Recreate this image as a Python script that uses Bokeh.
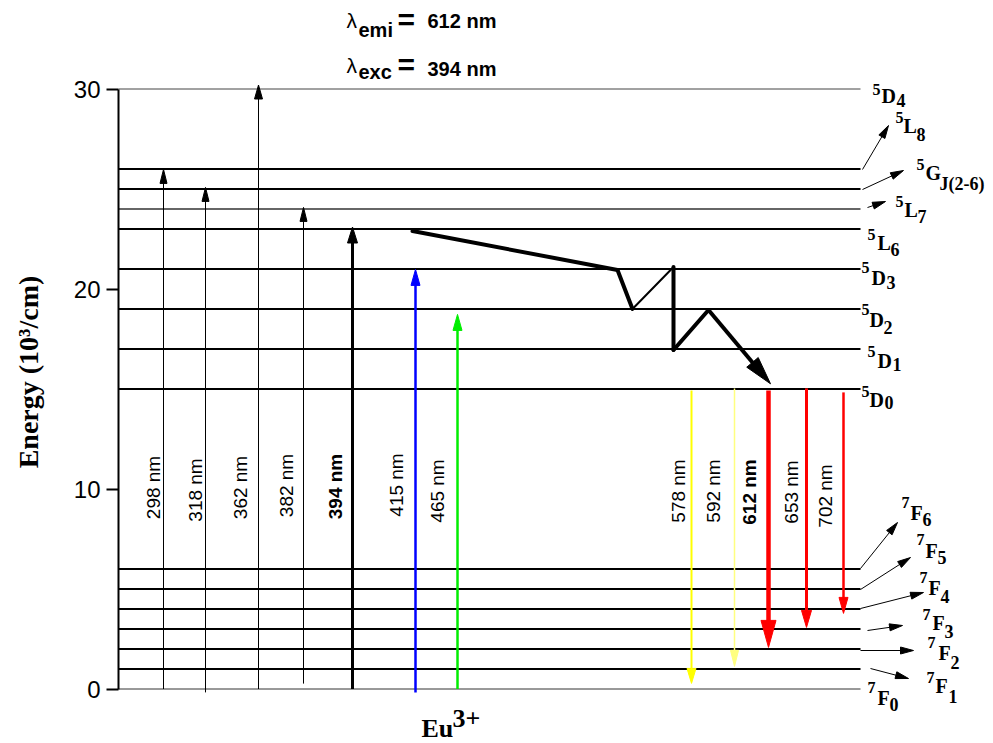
import math
from bokeh.plotting import figure
from bokeh.models import Range1d, FixedTicker
from bokeh.core.properties import value
from bokeh.embed import file_html
from bokeh.resources import INLINE

# ---------------- data ----------------
level_sup = ["5", "5", "5", "5", "5", "5", "5", "5", "5", "7", "7", "7", "7", "7", "7", "7"]
level_main = ["D", "L", "G", "L", "L", "D", "D", "D", "D", "F", "F", "F", "F", "F", "F", "F"]
level_sub = ["4", "8", "J(2-6)", "7", "6", "3", "2", "1", "0", "6", "5", "4", "3", "2", "1", "0"]
level_energy = [30, 26, 25, 24, 23, 21, 19, 17, 15, 6, 5, 4, 3, 2, 1, 0]

exc_labels = ["298 nm", "318 nm", "362 nm", "382 nm", "394 nm", "415 nm", "465 nm"]
exc_start = [0.0, -0.17, 0.0, 0.27, 0.0, -0.17, 0.0]
exc_end = [25.98, 25.08, 30.2, 24.08, 23.1, 20.98, 18.73]

emi_labels = ["578 nm", "592 nm", "612 nm", "653 nm", "702 nm"]
emi_start = [14.93, 15.02, 14.93, 15.03, 14.83]
emi_end = [0.28, 1.13, 2.08, 3.08, 3.78]

relax_energy = [22.9, 20.95, 19.0, 21.1, 16.95, 18.95, 15.26]

y_ticks = [0, 10, 20, 30]

# ---------------- layout ----------------
W, H, LEFT = 993, 743, 118
PX = 20.0          # pixels per energy unit
Y0 = 688.5         # pixel row of energy 0


def Y(py):
    return (Y0 - py) / PX


def YB(py, size):
    """data y of the middle of a text whose alphabetic baseline sits at pixel row py."""
    return Y(py - 0.36 * size)


LEVEL_X0, LEVEL_X1 = 118, 860
level_width = [1, 2, 2, 1.5, 2, 2, 2, 2, 2, 2, 2, 2, 2, 2, 2, 1]
level_color = ["#444444"] + ["black"] * 2 + ["#333333"] + ["black"] * 11 + ["#333333"]

exc_x = [163, 205, 258, 303, 352, 415, 457]
exc_color = ["black"] * 5 + ["#0000ff", "#00ee00"]
exc_lw = [1, 1, 1, 1, 3, 2.5, 2.5]
exc_head = [(14, 7), (14, 7), (14, 8), (14, 7), (16, 10), (16, 9), (16, 9)]
exc_lab_x = [152.5, 194.5, 239.5, 285.5, 334.5, 395.5, 436.5]
exc_lab_y = [487, 489.5, 487, 485, 486, 484.5, 490.5]
exc_bold = [False, False, False, False, True, False, False]

emi_x = [691, 734, 768, 806, 843]
emi_color = ["#ffff00", "#ffff80", "#ff0000", "#ff0000", "#ff0000"]
emi_lw = [2, 1.5, 4.5, 3, 2.5]
emi_head = [(15, 9), (16, 8), (27, 15), (17, 10), (16, 9)]
emi_lab_x = [677.5, 712.5, 748.5, 790.5, 824.5]
emi_lab_y = [490.5, 490.5, 491.5, 491.5, 495.5]
emi_bold = [False, False, True, False, False]

relax_x = [412, 617, 632, 673, 673, 708, 770]
relax_lw = [4, 4, 2, 4, 4, 4]

sup_pos = [(872, 95), (895, 123), (916, 170), (895, 207), (867, 240), (861, 273), (861, 315), (867, 357),
           (861, 397), (901, 508), (916, 545), (919, 583), (922, 620), (927, 648), (926, 683), (867, 693)]
main_pos = [(881, 103), (903, 133), (925, 180), (904, 217), (877, 250), (871, 285), (869, 327), (877, 368),
            (869, 407), (910, 520), (925, 558), (928, 595), (932, 630), (938, 660), (935, 693), (877, 705)]
sub_pos = [(896, 106), (916, 140), (939, 190), (917, 222), (890, 255), (886, 288), (883, 333), (892, 370),
           (884, 408), (922, 525), (937, 563), (940, 602), (944, 637), (950, 668), (948, 702), (889, 710)]

pointers = [((862, 169), (888, 125)), ((862, 189), (903, 170)), ((867, 207), (885, 201)),
            ((860, 568), (897, 522)), ((860, 589), (910, 557)), ((860, 608), (923, 592)),
            ((867, 630), (902, 625)), ((860, 650), (913, 650)), ((870, 668), (908, 678))]

SERIF = "Liberation Serif"
SANS = "Liberation Sans"


def head_tri(xt, yt, xf, yf, L, Wd):
    """Triangle (data coords) for an arrow head of L x Wd pixels at (xt, yt) pointing away from (xf, yf)."""
    ty, fy = yt * PX, yf * PX
    dx, dy = xt - xf, ty - fy
    n = math.hypot(dx, dy)
    ux, uy = dx / n, dy / n
    bx, by = xt - ux * L, ty - uy * L
    nx, ny = -uy, ux
    xs = [xt, bx + nx * Wd / 2, bx - nx * Wd / 2]
    ys = [yt, (by + ny * Wd / 2) / PX, (by - ny * Wd / 2) / PX]
    end = (bx + ux * L * 0.4, (by + uy * L * 0.4) / PX)
    return xs, ys, end


p = figure(width=W, height=H, x_range=Range1d(LEFT, W), y_range=Range1d(Y(H), Y(0)),
           output_backend="svg", toolbar_location=None, x_axis_location=None,
           min_border_left=LEFT, min_border_right=0, min_border_top=0, min_border_bottom=0)
p.grid.visible = False
p.outline_line_color = None
p.background_fill_color = "white"
p.border_fill_color = "white"

ax = p.yaxis[0]
ax.ticker = FixedTicker(ticks=y_ticks)
ax.bounds = (0, 30)
ax.axis_line_width = 2
ax.axis_line_color = "black"
ax.major_tick_line_width = 2
ax.major_tick_out = 12
ax.major_tick_in = 0
ax.minor_tick_out = 0
ax.minor_tick_in = 0
ax.major_label_text_font = SANS
ax.major_label_text_font_size = "24px"
ax.major_label_text_color = "black"
ax.major_label_standoff = 6
ax.axis_label = "Energy (10³/cm)"
ax.axis_label_text_font = SERIF
ax.axis_label_text_font_style = "bold"
ax.axis_label_text_font_size = "28px"
ax.axis_label_text_color = "black"
ax.axis_label_standoff = 27

# energy levels
p.segment(x0=[LEVEL_X0] * len(level_energy), x1=[LEVEL_X1] * len(level_energy),
          y0=level_energy, y1=level_energy, line_width=level_width, line_color=level_color)


def arrow(x0, y0, x1, y1, color, lw, L, Wd):
    xs, ys, end = head_tri(x1, y1, x0, y0, L, Wd)
    p.segment(x0=[x0], y0=[y0], x1=[end[0]], y1=[end[1]], line_color=color, line_width=lw)
    p.patch(xs, ys, fill_color=color, line_color=color, line_width=1)


# excitation arrows
for i in range(len(exc_labels)):
    arrow(exc_x[i], exc_start[i], exc_x[i], exc_end[i], exc_color[i], exc_lw[i], *exc_head[i])

# emission arrows
for i in range(len(emi_labels)):
    arrow(emi_x[i], emi_start[i], emi_x[i], emi_end[i], emi_color[i], emi_lw[i], *emi_head[i])

# non-radiative relaxation path
for i in range(len(relax_x) - 2):
    p.segment(x0=[relax_x[i]], y0=[relax_energy[i]], x1=[relax_x[i + 1]], y1=[relax_energy[i + 1]],
              line_color="black", line_width=relax_lw[i], line_cap="round")
arrow(relax_x[-2], relax_energy[-2], relax_x[-1], relax_energy[-1], "black", relax_lw[-1], 28, 15)

# pointer arrows to term labels
for (a, b) in pointers:
    arrow(a[0], Y(a[1]), b[0], Y(b[1]), "black", 1, 13, 7)

# vertical wavelength labels
for labs, xs_, ys_, bold in ((exc_labels, exc_lab_x, exc_lab_y, exc_bold),
                             (emi_labels, emi_lab_x, emi_lab_y, emi_bold)):
    for t, x, y, b in zip(labs, xs_, ys_, bold):
        p.text(x=[x], y=[Y(y)], text=[t], angle=math.pi / 2, text_align="center",
               text_baseline="middle", text_font=value(SANS), text_font_size="19px",
               text_font_style="bold" if b else "normal", text_color="black")


# term labels
def put(pos, texts, size):
    p.text(x=[q[0] for q in pos], y=[YB(q[1], size) for q in pos], text=texts, text_align="left",
           text_baseline="middle", text_font=value(SERIF), text_font_size=f"{size}px",
           text_font_style="bold", text_color="black")


put(sup_pos, level_sup, 16)
put(main_pos, level_main, 20)
put(sub_pos, level_sub, 18)

# header texts
header = [
    ("λ", 346, 28, 21, "normal"), ("emi", 358, 37, 20, "bold"), ("=", 397, 30, 30, "bold"),
    ("612 nm", 427, 28, 20, "bold"),
    ("λ", 346, 73, 21, "normal"), ("exc", 358, 79, 20, "bold"), ("=", 397, 75, 30, "bold"),
    ("394 nm", 427, 76, 20, "bold"),
]
for t, x, y, s, st in header:
    p.text(x=[x], y=[YB(y, s)], text=[t], text_align="left", text_baseline="middle",
           text_font=value(SANS), text_font_size=f"{s}px", text_font_style=st, text_color="black")

# ion label
p.text(x=[421], y=[YB(737, 26)], text=["Eu"], text_align="left", text_baseline="middle",
       text_font=value(SERIF), text_font_size="26px", text_font_style="bold", text_color="black")
p.text(x=[452], y=[YB(727, 26)], text=["3+"], text_align="left", text_baseline="middle",
       text_font=value(SERIF), text_font_size="26px", text_font_style="bold", text_color="black")

open("out.html", "w").write(file_html(p, INLINE))
